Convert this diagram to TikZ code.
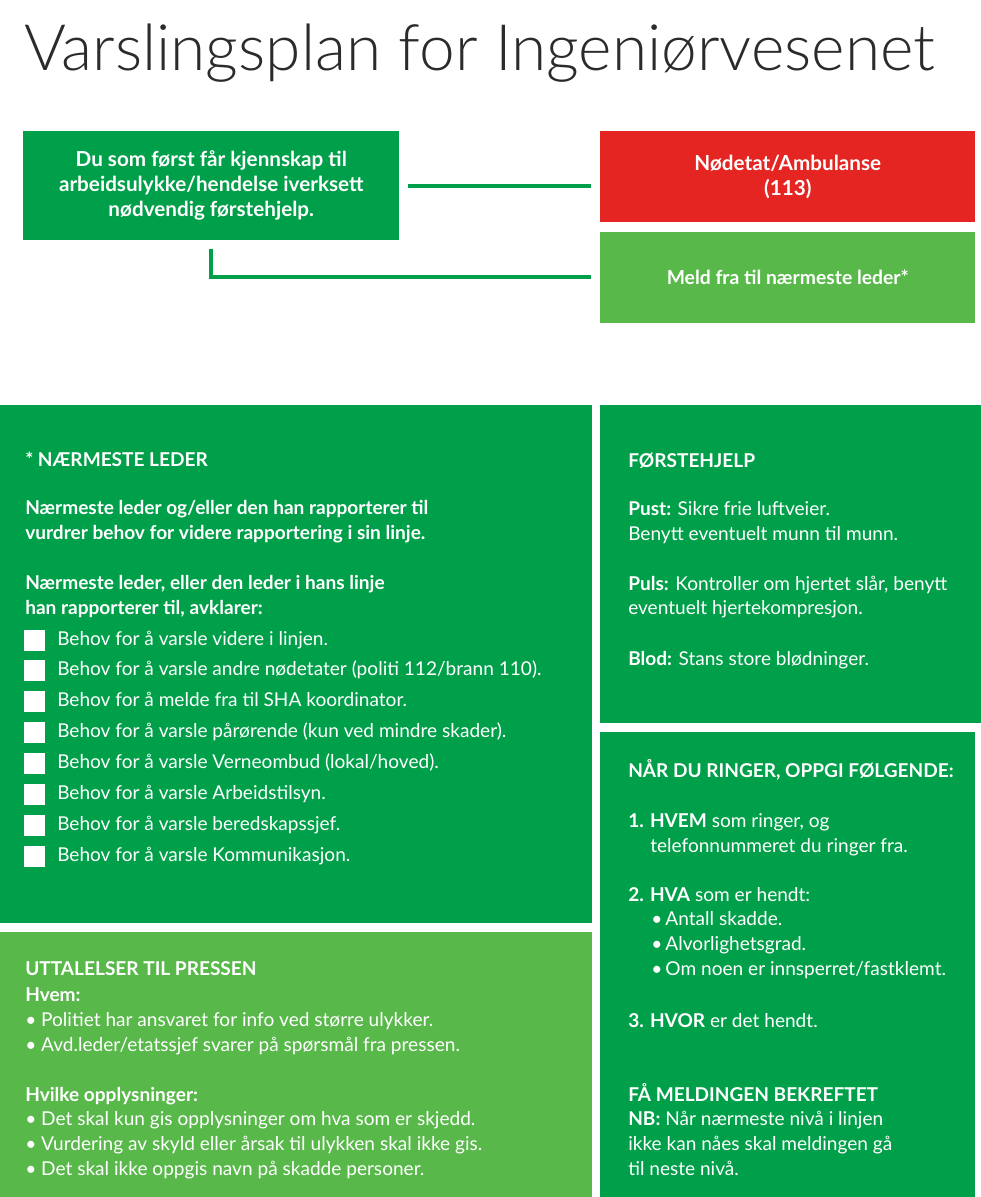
\documentclass[tikz,border=0pt]{standalone}
\usepackage{fontspec}
\setmainfont{Lato}
\newfontfamily\titlefont{Lato Light}
\usetikzlibrary{positioning, calc}
\definecolor{vargreen}{HTML}{00A04A}
\definecolor{lightgreen}{HTML}{58B84A}
\definecolor{alarmred}{HTML}{E52521}
\definecolor{titlegray}{HTML}{2B2B2B}

\begin{document}
\begin{tikzpicture}[x=0.75pt, y=-0.75pt,
        box/.style={rectangle, inner sep=0pt, minimum width=282pt, minimum height=81.75pt, fill=vargreen, text=white, align=center, font=\bfseries\fontsize{15.5}{18.75}\selectfont},
        panel/.style={rectangle, anchor=north west, inner sep=0pt, fill=vargreen},
        txt/.style={anchor=base west, inner sep=0pt, text=white, font=\fontsize{14.3}{17}\selectfont},
        head/.style={txt, font=\bfseries\fontsize{14.3}{17}\selectfont},
        tickbox/.style={rectangle, fill=white, minimum size=15.75pt, inner sep=0pt},
        link/.style={draw=vargreen, line width=3pt}
    ]
        \useasboundingbox (0,0) rectangle (981,1197);

        % Title
        \node[anchor=base west, inner sep=0pt, text=titlegray, font=\titlefont\fontsize{48}{56}\selectfont] (title) at (24,70) {Varslingsplan for Ingeniørvesenet};

        % Top boxes
        \node[box, anchor=north west] (first) at (23,131) {Du som først får kjennskap til\\arbeidsulykke/hendelse iverksett\\nødvendig førstehjelp.};
        \node[box, anchor=north west, minimum width=281.25pt, minimum height=68.25pt, fill=alarmred] (amb) at (600,131) {Nødetat/Ambulanse\\(113)};
        \node[box, below=6.75pt of amb, minimum width=281.25pt, minimum height=68.25pt, fill=lightgreen, font=\bfseries\fontsize{14.5}{18.75}\selectfont] (meld) {Meld fra til nærmeste leder*};

        % Links
        \draw[link, shorten <=6pt, shorten >=6.75pt] (first.east) -- (first.east -| amb.west);
        \draw[link, shorten <=6pt, shorten >=6.75pt] (first.south) |- (meld.west);

        % Panels
        \node[panel, minimum width=444pt, minimum height=388.5pt] (lead) at (0,405) {};
        \node[panel, minimum width=285.75pt, minimum height=238.5pt] (aid) at (600,405) {};
        \node[panel, minimum width=281.25pt, minimum height=348.75pt] (call) at (600,732) {};
        \node[panel, minimum width=444pt, minimum height=198.75pt, fill=lightgreen] (press) at (0,932) {};

        % Nearest leader
        \node[head] (lead-h) at ($(lead.north west)+(25,61)$) {* NÆRMESTE LEDER};
        \foreach \dy/\txt [count=\i] in {109/{Nærmeste leder og/eller den han rapporterer til},
                134/{vurdrer behov for videre rapportering i sin linje.},
                184/{Nærmeste leder, eller den leder i hans linje},
                209/{han rapporterer til, avklarer:}}
            \node[head] (lead-\i) at ($(lead.north west)+(25,\dy)$) {\txt};

        % Checklist
        \foreach \txt [count=\i from 0] in {Behov for å varsle videre i linjen.,
                Behov for å varsle andre nødetater (politi 112/brann 110).,
                Behov for å melde fra til SHA koordinator.,
                Behov for å varsle pårørende (kun ved mindre skader).,
                Behov for å varsle Verneombud (lokal/hoved).,
                Behov for å varsle Arbeidstilsyn.,
                Behov for å varsle beredskapssjef.,
                Behov for å varsle Kommunikasjon.}
        {
            \node[tickbox] (tick-\i) at ($(lead.north west)+(34.5,235+30.9*\i)$) {};
            \node[txt] (item-\i) at ($(tick-\i.center)+(22.5,5)$) {\txt};
        }

        % First aid
        \node[head] (aid-h) at ($(aid.north west)+(28,62)$) {FØRSTEHJELP};
        \foreach \dy/\txt [count=\i] in {110/{\textbf{Pust:} Sikre frie luftveier.},
                135/{Benytt eventuelt munn til munn.},
                185/{\textbf{Puls:} Kontroller om hjertet slår, benytt},
                209/{eventuelt hjertekompresjon.},
                260/{\textbf{Blod:} Stans store blødninger.}}
            \node[txt] (aid-\i) at ($(aid.north west)+(28,\dy)$) {\txt};

        % When calling
        \node[head] (call-h) at ($(call.north west)+(28,45)$) {NÅR DU RINGER, OPPGI FØLGENDE:};
        \foreach \dx/\dy/\txt [count=\i] in {28/95/{\textbf{1. HVEM} som ringer, og},
                50/120/{telefonnummeret du ringer fra.},
                28/169/{\textbf{2. HVA} som er hendt:},
                51/193/{\textbullet\,Antall skadde.},
                51/218/{\textbullet\,Alvorlighetsgrad.},
                51/243/{\textbullet\,Om noen er innsperret/fastklemt.},
                28/295/{\textbf{3. HVOR} er det hendt.},
                28/369/{\textbf{FÅ MELDINGEN BEKREFTET}},
                28/393/{\textbf{NB:} Når nærmeste nivå i linjen},
                28/418/{ikke kan nåes skal meldingen gå},
                28/443/{til neste nivå.}}
            \node[txt] (call-\i) at ($(call.north west)+(\dx,\dy)$) {\txt};

        % Press
        \node[head] (press-h) at ($(press.north west)+(25,43)$) {UTTALELSER TIL PRESSEN};
        \foreach \dy/\txt [count=\i] in {69/{\textbf{Hvem:}},
                94/{\textbullet\ Politiet har ansvaret for info ved større ulykker.},
                119/{\textbullet\ Avd.leder/etatssjef svarer på spørsmål fra pressen.},
                169/{\textbf{Hvilke opplysninger:}},
                193/{\textbullet\ Det skal kun gis opplysninger om hva som er skjedd.},
                218/{\textbullet\ Vurdering av skyld eller årsak til ulykken skal ikke gis.},
                243/{\textbullet\ Det skal ikke oppgis navn på skadde personer.}}
            \node[txt] (press-\i) at ($(press.north west)+(25,\dy)$) {\txt};
    \end{tikzpicture}
\end{document}
